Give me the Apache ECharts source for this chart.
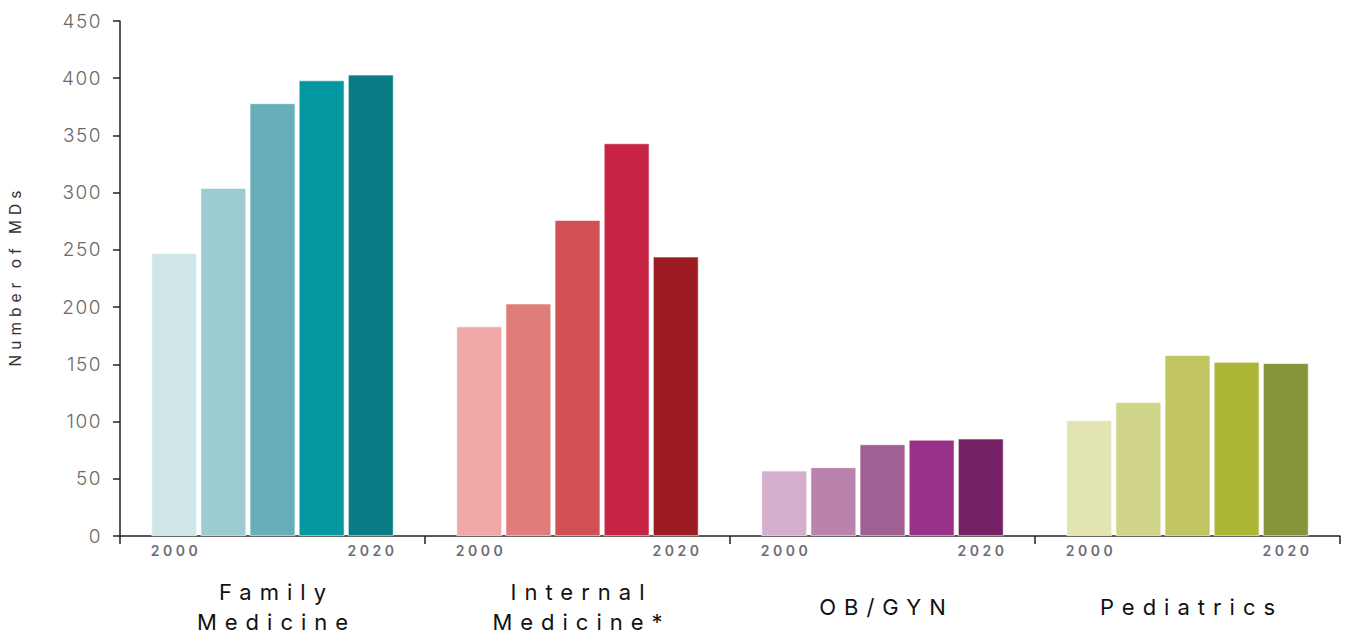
<!DOCTYPE html>
<html>
<head>
<meta charset="utf-8">
<script src="https://cdn.jsdelivr.net/npm/echarts@6/dist/echarts.min.js"></script>
<style>
html,body{margin:0;padding:0;background:#fff;}
#chart{width:1351px;height:636px;}
</style>
</head>
<body>
<div id="chart"></div>
<script>
// ---- data ----
var categories = ['Family\nMedicine', 'Internal\nMedicine*', 'OB/GYN', 'Pediatrics'];
var years = ['2000', '2005', '2010', '2015', '2020'];
var y2000 = [247, 183, 57, 101];
var y2005 = [304, 203, 60, 117];
var y2010 = [378, 276, 80, 158];
var y2015 = [398, 343, 84, 152];
var y2020 = [403, 244, 85, 151];
var yTicks = [0, 50, 100, 150, 200, 250, 300, 350, 400, 450];

// ---- palette (per category, per year) ----
var palette = [
  ['#cfe6e8', '#9ccbd1', '#66afb8', '#03989f', '#087b84'],
  ['#f0a9a7', '#e07c7a', '#d05053', '#c72444', '#9c1c22'],
  ['#d4afcb', '#ba83ae', '#a06093', '#98318a', '#752166'],
  ['#e2e5b1', '#d1d589', '#c1c562', '#acb738', '#84953a']
];

var seriesValues = [y2000, y2005, y2010, y2015, y2020];
var FONT = 'Inter';

var series = seriesValues.map(function (vals, si) {
  var showLab = (si === 0 || si === years.length - 1);
  return {
    type: 'bar',
    name: years[si],
    barWidth: 45.5,
    barGap: '8%',
    data: vals.map(function (v, ci) {
      return { value: v, itemStyle: { color: palette[ci][si] } };
    }),
    label: {
      show: showLab,
      position: 'bottom',
      distance: 7,
      formatter: function () { return years[si]; },
      color: '#6d6d78',
      fontSize: 14,
      fontWeight: 600,
      fontFamily: FONT
    },
    itemStyle: { borderColor: '#ffffff', borderWidth: 0.6 }
  };
});

var chart = echarts.init(document.getElementById('chart'), null, { renderer: 'svg' });
chart.setOption({
  animation: false,
  backgroundColor: '#ffffff',
  grid: { left: 120, right: 11, top: 21, bottom: 100, containLabel: false, outerBoundsMode: 'none' },
  xAxis: {
    type: 'category',
    data: categories,
    axisLine: { show: true, lineStyle: { color: '#222', width: 1.5 } },
    axisTick: { show: true, length: 8, lineStyle: { color: '#222', width: 1.5 } },
    axisLabel: {
      margin: 71,
      verticalAlign: 'middle',
      fontSize: 22,
      lineHeight: 30,
      color: '#111',
      fontFamily: FONT
    }
  },
  yAxis: {
    type: 'value',
    min: yTicks[0],
    max: yTicks[yTicks.length - 1],
    interval: yTicks[1] - yTicks[0],
    name: 'Number of MDs',
    nameLocation: 'middle',
    nameGap: 97,
    nameRotate: 90,
    nameTextStyle: { fontSize: 15.5, color: '#333', fontFamily: FONT },
    axisLine: { show: true, lineStyle: { color: '#222', width: 1.5 } },
    axisTick: { show: true, length: 7, lineStyle: { color: '#222', width: 1.5 } },
    splitLine: { show: false },
    axisLabel: {
      margin: 18,
      fontSize: 19,
      color: '#6a6a6a',
      fontWeight: 300,
      fontFamily: FONT
    }
  },
  series: series
});

function spacing() {
  var texts = document.querySelectorAll('#chart svg text');
  texts.forEach(function (t) {
    var fs = parseFloat(getComputedStyle(t).fontSize);
    var ls = 0;
    if (fs >= 21) ls = 8;
    else if (fs >= 17) ls = 1.5;
    else if (fs >= 15) ls = 5;
    else if (fs >= 12) ls = 3.5;
    t.style.letterSpacing = ls + 'px';
    if (getComputedStyle(t).textAnchor === 'middle' || t.getAttribute('text-anchor') === 'middle') {
      t.setAttribute('dx', ls / 2);
    }
  });
}
chart.on('finished', spacing);
setTimeout(spacing, 50);
setTimeout(spacing, 300);
</script>
</body>
</html>
